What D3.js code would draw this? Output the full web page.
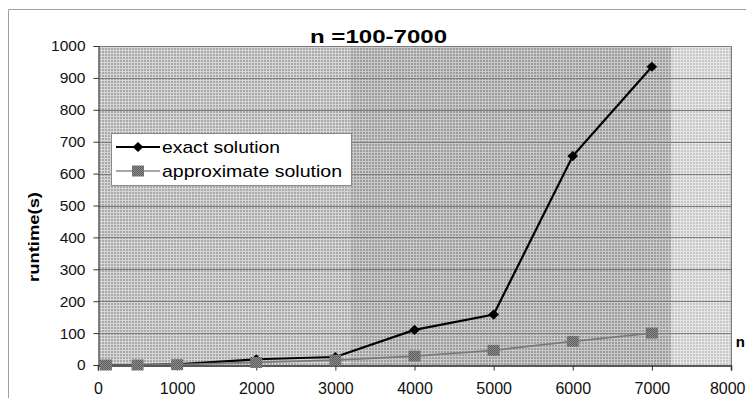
<!DOCTYPE html>
<html>
<head>
<meta charset="utf-8">
<script src="https://cdn.jsdelivr.net/npm/d3@7"></script>
<style>
  html, body { margin: 0; padding: 0; background: #fff; }
  svg { display: block; font-family: "Liberation Sans", Arial, sans-serif; }
</style>
</head>
<body>
<svg id="chart" width="746" height="398"></svg>
<script>
// Problem sizes n and measured runtimes (seconds)
const nValues = [100, 500, 1000, 2000, 3000, 4000, 5000, 6000, 7000];
const exactRuntime = [0, 0, 2, 18, 25, 110, 158, 655, 935];
const approxRuntime = [0, 0, 1, 8, 15, 28, 46, 74, 100];
const seriesNames = ["exact solution", "approximate solution"];
const xTicks = [0, 1000, 2000, 3000, 4000, 5000, 6000, 7000, 8000];
const yTicks = [0, 100, 200, 300, 400, 500, 600, 700, 800, 900, 1000];
const titleText = "n =100-7000";
const xLabel = "n";
const yLabel = "runtime(s)";
// shaded background bands along the n axis
const bandEdges = [0, 3180, 7250, 8000];

const svg = d3.select("#chart");
const plot = { left: 98, right: 731, top: 46, bottom: 365 };

const x = d3.scaleLinear().domain([0, 8000]).range([plot.left, plot.right]);
const y = d3.scaleLinear().domain([0, 1000]).range([plot.bottom, plot.top]);

// stipple patterns for the plot-area bands
const defs = svg.append("defs");
const shades = [
  { id: "st0", dark: "#a9a9a9", light: "#d6d6d6" },
  { id: "st1", dark: "#9c9c9c", light: "#cacaca" },
  { id: "st2", dark: "#c6c6c6", light: "#e6e6e6" }
];
shades.forEach(s => {
  const p = defs.append("pattern").attr("id", s.id).attr("patternUnits", "userSpaceOnUse")
    .attr("width", 3).attr("height", 3);
  p.append("rect").attr("width", 3).attr("height", 3).attr("fill", s.light);
  p.append("rect").attr("width", 2).attr("height", 2).attr("fill", s.dark);
});
const sq = defs.append("pattern").attr("id", "sqfill").attr("patternUnits", "userSpaceOnUse")
  .attr("width", 2).attr("height", 2);
sq.append("rect").attr("width", 2).attr("height", 2).attr("fill", "#8a8a8a");
sq.append("rect").attr("width", 1).attr("height", 1).attr("fill", "#5e5e5e");
sq.append("rect").attr("x", 1).attr("y", 1).attr("width", 1).attr("height", 1).attr("fill", "#5e5e5e");

// outer frame of the chart object
svg.append("path").attr("d", "M8.5,398 V9.5 H746").attr("fill", "none")
  .attr("stroke", "#a0a0a0").attr("stroke-width", 1);

// background bands
svg.append("g").selectAll("rect").data(d3.pairs(bandEdges)).join("rect")
  .attr("x", d => x(d[0])).attr("y", plot.top)
  .attr("width", d => x(d[1]) - x(d[0])).attr("height", plot.bottom - plot.top)
  .attr("fill", (d, i) => `url(#${shades[i].id})`);

// horizontal gridlines
svg.append("g").selectAll("line").data(yTicks.filter(v => v > 0)).join("line")
  .attr("x1", plot.left).attr("x2", plot.right)
  .attr("y1", d => Math.round(y(d)) + 0.5).attr("y2", d => Math.round(y(d)) + 0.5)
  .attr("stroke", "#7c7c7c").attr("stroke-width", 1);

// plot border (top/right)
svg.append("path")
  .attr("d", `M${plot.left},${plot.top + 0.5} H${plot.right + 0.5} V${plot.bottom}`)
  .attr("fill", "none").attr("stroke", "#7a7a7a").attr("stroke-width", 1);

// axes
const yAxis = d3.axisLeft(y).tickValues(yTicks).tickSize(5).tickPadding(8).tickFormat(d3.format("d"));
const gy = svg.append("g").attr("transform", `translate(${plot.left + 0.5},0)`).call(yAxis);
gy.select(".domain").attr("stroke", "#333");
gy.selectAll(".tick line").attr("stroke", "#333");
gy.selectAll(".tick text").attr("font-size", 15.5).attr("fill", "#111")
  .attr("font-family", "Liberation Sans, Arial, sans-serif").attr("x", -13);

const xAxis = d3.axisBottom(x).tickValues(xTicks).tickSize(5).tickPadding(12).tickFormat(d3.format("d"));
const gx = svg.append("g").attr("transform", `translate(0,${plot.bottom + 0.5})`).call(xAxis);
gx.select(".domain").attr("stroke", "#222").attr("stroke-width", 1.5);
gx.selectAll(".tick line").attr("stroke", "#333");
gx.selectAll(".tick text").attr("font-size", 16).attr("fill", "#111")
  .attr("font-family", "Liberation Sans, Arial, sans-serif");
// keep the last tick label inside the right edge
gx.selectAll(".tick text").filter(d => d === 8000)
  .attr("text-anchor", "end").attr("x", 746 - x(8000) - 1);

// series
const exactData = nValues.map((n, i) => ({ n, v: exactRuntime[i] }));
const approxData = nValues.map((n, i) => ({ n, v: approxRuntime[i] }));
const line = d3.line().x(d => x(d.n)).y(d => y(d.v));

const diamond = d3.symbol().type(d3.symbolDiamond2).size(66);

svg.append("path").datum(exactData).attr("d", line)
  .attr("fill", "none").attr("stroke", "#000").attr("stroke-width", 2.2);
svg.append("g").selectAll("path").data(exactData).join("path")
  .attr("d", diamond)
  .attr("transform", d => `translate(${x(d.n)},${y(d.v)}) scale(1.05,1)`)
  .attr("fill", "#000");

svg.append("path").datum(approxData).attr("d", line)
  .attr("fill", "none").attr("stroke", "#7a7a7a").attr("stroke-width", 1.7);
svg.append("g").selectAll("rect").data(approxData).join("rect")
  .attr("x", d => x(d.n) - 6).attr("y", d => y(d.v) - 5.5)
  .attr("width", 12).attr("height", 11)
  .attr("fill", "url(#sqfill)");

// title and axis labels
svg.append("text").text(titleText)
  .attr("x", 310).attr("y", 42.5)
  .attr("font-size", 18).attr("font-weight", "bold").attr("fill", "#000")
  .attr("textLength", 137).attr("lengthAdjust", "spacingAndGlyphs");

svg.append("text").text(yLabel)
  .attr("transform", "translate(39,237) rotate(-90)")
  .attr("text-anchor", "middle")
  .attr("font-size", 14).attr("font-weight", "bold").attr("fill", "#000")
  .attr("textLength", 90).attr("lengthAdjust", "spacingAndGlyphs");

svg.append("text").text(xLabel)
  .attr("x", 745).attr("y", 347).attr("text-anchor", "end")
  .attr("font-size", 15).attr("font-weight", "bold").attr("fill", "#000");

// legend
const lg = svg.append("g");
lg.append("rect").attr("x", 111.5).attr("y", 133.5).attr("width", 240).attr("height", 52)
  .attr("fill", "#fff").attr("stroke", "#8a8a8a").attr("stroke-width", 1);
const rows = [147, 171];
// exact row
lg.append("line").attr("x1", 116).attr("x2", 160).attr("y1", rows[0]).attr("y2", rows[0])
  .attr("stroke", "#000").attr("stroke-width", 2.2);
lg.append("path").attr("d", diamond).attr("transform", `translate(138,${rows[0]}) scale(1.05,1)`).attr("fill", "#000");
// approximate row
lg.append("line").attr("x1", 116).attr("x2", 160).attr("y1", rows[1]).attr("y2", rows[1])
  .attr("stroke", "#8a8a8a").attr("stroke-width", 1.6);
lg.append("rect").attr("x", 132).attr("y", rows[1] - 5.5).attr("width", 12).attr("height", 11)
  .attr("fill", "url(#sqfill)");
const legendWidths = [118, 180];
seriesNames.forEach((name, i) => {
  lg.append("text").text(name).attr("x", 162).attr("y", rows[i] + 6)
    .attr("font-size", 17).attr("fill", "#000")
    .attr("textLength", legendWidths[i]).attr("lengthAdjust", "spacingAndGlyphs");
});
</script>
</body>
</html>
